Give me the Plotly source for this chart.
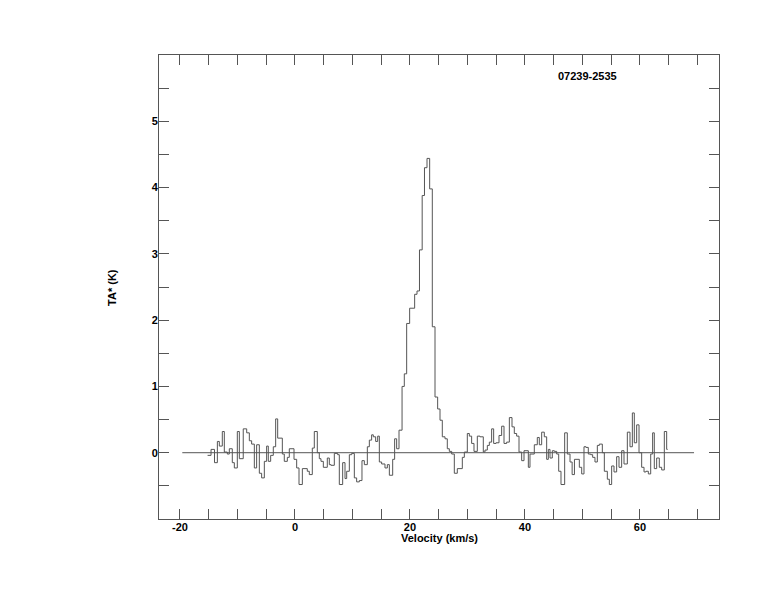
import plotly.graph_objects as go

# Step left edges (km/s) and antenna temperatures (K)
velocity = [-15.2, -14.6, -14.0, -13.5, -13.16, -12.64, -12.29, -11.77, -11.42, -10.90,
            -10.55, -10.03, -9.68, -9.0, -8.4, -7.94, -7.54, -7.07, -6.67, -6.2,
            -5.8, -5.33, -4.93, -4.64, -4.23, -3.77, -3.36, -3.01, -2.20, -1.86,
            -1.33, -0.99, -0.17, 0.29, 0.70, 1.28, 2.14, 2.49, 3.01, 3.36,
            3.88, 4.23, 4.52, 4.93, 5.62, 5.97, 6.26, 6.84, 7.42, 7.71,
            8.29, 8.70, 8.99, 9.45, 9.86, 10.32, 10.72, 11.19, 11.65, 12.06,
            12.58, 12.93, 13.33, 13.62, 14.03, 14.38, 14.67, 15.07, 15.65, 16.06,
            16.41, 16.99, 17.33, 17.68, 18.09, 18.62, 19.01, 19.42, 19.94, 20.81,
            21.22, 21.65, 22.12, 22.52, 22.96, 23.42, 23.88, 24.35, 24.81, 25.22,
            25.62, 26.09, 26.49, 26.84, 27.25, 27.71, 28.23, 29.10, 29.45, 29.97,
            30.32, 30.72, 31.13, 31.71, 32.17, 32.75, 33.04, 33.45, 33.80, 34.20,
            34.55, 34.96, 35.48, 35.94, 36.35, 36.81, 37.28, 37.74, 38.14, 38.55,
            38.96, 39.42, 39.83, 40.58, 40.87, 41.62, 42.14, 42.49, 42.90, 43.36,
            43.77, 44.06, 44.35, 44.75, 45.10, 45.51, 45.86, 46.26, 46.9, 47.36,
            47.83, 48.2, 48.6, 49.45, 49.86, 50.26, 50.61, 51.01, 51.42, 51.77,
            52.17, 52.58, 52.93, 53.45, 53.80, 54.32, 54.67, 55.07, 55.48, 55.94,
            56.35, 56.81, 57.22, 57.80, 58.26, 58.67, 59.01, 59.42, 59.83, 60.29,
            60.70, 61.04, 61.45, 61.86, 62.20, 62.49, 62.90, 63.36, 63.77, 64.23,
            64.64, 64.81]
ta = [-0.04, 0.05, -0.15, 0.17, 0.10, 0.32, 0.01, -0.02, 0.06, -0.15,
      -0.23, 0.32, -0.09, 0.36, 0.30, 0.18, 0.13, -0.23, 0.12, -0.31,
      -0.38, -0.13, 0.10, -0.13, -0.04, 0.09, 0.51, 0.22, -0.02, -0.13,
      -0.07, 0.06, -0.10, -0.23, -0.48, -0.24, -0.28, -0.33, 0.07, 0.32,
      0.0, -0.09, -0.13, -0.22, -0.08, -0.18, -0.19, -0.01, -0.03, -0.48,
      -0.15, -0.39, -0.28, -0.03, -0.01, -0.38, -0.44, -0.42, -0.12, -0.18,
      0.09, 0.19, 0.27, 0.24, 0.17, 0.25, -0.14, -0.17, -0.23, -0.18,
      -0.34, -0.10, 0.21, 0.06, 0.34, 1.0, 1.19, 1.95, 2.18, 2.39,
      2.44, 3.06, 3.88, 4.30, 4.44, 3.98, 1.90, 0.84, 0.66, 0.49,
      0.24, 0.21, 0.06, 0.02, -0.02, -0.31, -0.24, -0.07, 0.01, 0.29,
      0.25, 0.14, 0.02, 0.25, 0.24, 0.01, 0.04, 0.11, 0.16, 0.36,
      0.14, 0.15, 0.26, 0.40, 0.14, 0.16, 0.53, 0.39, 0.29, 0.25,
      0.01, -0.12, 0.03, -0.22, -0.02, 0.12, 0.23, 0.12, 0.31, 0.24,
      -0.10, 0.05, -0.08, 0.03, 0.02, -0.02, -0.28, -0.48, 0.30, -0.02,
      -0.14, -0.33, -0.10, -0.22, -0.32, 0.09, 0.08, -0.02, -0.03, -0.07,
      -0.14, 0.11, 0.13, 0.0, -0.28, -0.40, -0.48, -0.20, -0.29, -0.06,
      -0.22, 0.03, -0.17, 0.31, 0.09, 0.60, 0.15, 0.42, 0.0, -0.22,
      -0.29, -0.28, -0.32, -0.02, 0.30, -0.24, -0.08, -0.22, -0.26, 0.32,
      0.05, 0.05]

baseline_v = [-19.6, 69.4]
baseline_t = [0, 0]

x_ticks = [-20, 0, 20, 40, 60]
x_tick_text = ["-20", "0", "20", "40", "60"]
y_ticks = [0, 1, 2, 3, 4, 5]

source_name = "07239-2535"
x_title = "Velocity (km/s)"
y_title = "TA* (K)"

LINE = "#555555"
FONT = dict(family="Liberation Sans, Arial, sans-serif", size=11, color="black", weight="bold")

fig = go.Figure()
fig.add_trace(go.Scatter(x=baseline_v, y=baseline_t, mode="lines",
                         line=dict(color=LINE, width=1), hoverinfo="skip"))
fig.add_trace(go.Scatter(x=velocity, y=ta, mode="lines", line_shape="hv",
                         line=dict(color=LINE, width=1)))

axis_common = dict(showline=True, linecolor=LINE, linewidth=1, mirror="ticks",
                   ticks="inside", ticklen=10, tickcolor=LINE, tickwidth=1,
                   showgrid=False, zeroline=False, tickfont=FONT)

fig.update_xaxes(range=[-23.65, 73.74], tickmode="array", tickvals=x_ticks,
                 ticktext=x_tick_text,
                 minor=dict(dtick=5, tick0=0, ticks="inside", ticklen=10,
                            tickcolor=LINE, showgrid=False),
                 ticklabelstandoff=-2,
                 **axis_common)
fig.update_yaxes(range=[-1, 6], tickmode="array", tickvals=y_ticks,
                 minor=dict(dtick=0.5, tick0=0, ticks="inside", ticklen=10,
                            tickcolor=LINE, showgrid=False),
                 ticklabelstandoff=-2,
                 **axis_common)

fig.update_layout(
    width=774, height=612,
    margin=dict(l=151, r=63, t=47, b=101),
    paper_bgcolor="white", plot_bgcolor="white",
    showlegend=False,
    annotations=[
        dict(text=source_name, xref="paper", yref="paper", x=0.766, y=0.955,
             xanchor="center", yanchor="middle", showarrow=False, font=FONT),
        dict(text=x_title, xref="paper", yref="paper", x=0.5, y=-0.040,
             xanchor="center", yanchor="middle", showarrow=False, font=FONT),
        dict(text=y_title, xref="paper", yref="paper", x=-0.084, y=0.5,
             xanchor="center", yanchor="middle", showarrow=False, textangle=-90,
             font=FONT),
    ],
)

fig.write_html("out.html")
